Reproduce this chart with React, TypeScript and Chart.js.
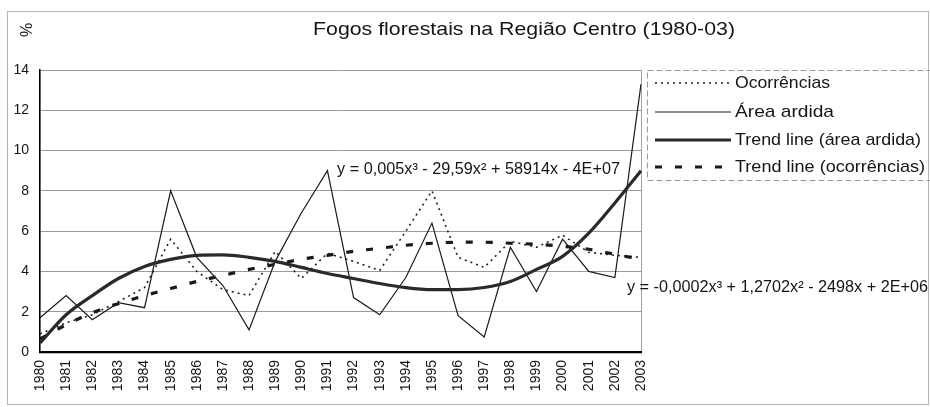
import React, { useEffect, useRef } from "react";
import { Chart, registerables } from "chart.js";

Chart.register(...registerables);

const years = [
  "1980", "1981", "1982", "1983", "1984", "1985", "1986", "1987", "1988", "1989", "1990", "1991",
  "1992", "1993", "1994", "1995", "1996", "1997", "1998", "1999", "2000", "2001", "2002", "2003",
];

const ocorrencias = [
  0.9, 1.45, 1.85, 2.5, 3.2, 5.6, 4.0, 3.1, 2.8, 5.0, 3.65, 4.9,
  4.5, 4.05, 6.0, 8.0, 4.7, 4.2, 5.5, 5.2, 5.8, 4.95, 4.8, 4.7,
];

const areaArdida = [
  1.7, 2.8, 1.6, 2.45, 2.2, 8.0, 4.7, 3.3, 1.1, 4.5, 6.9, 9.0,
  2.7, 1.85, 3.7, 6.4, 1.8, 0.75, 5.2, 3.0, 5.6, 4.0, 3.7, 13.3,
];

const trendArea = [
  0.45, 1.85, 2.8, 3.65, 4.25, 4.6, 4.8, 4.82, 4.7, 4.5, 4.2, 3.9,
  3.65, 3.4, 3.2, 3.1, 3.1, 3.2, 3.5, 4.1, 4.75, 5.9, 7.4, 9.0,
];

const trendOcorrencias = [
  0.65, 1.35, 1.95, 2.4, 2.8, 3.15, 3.5, 3.8, 4.1, 4.35, 4.6, 4.8,
  5.0, 5.15, 5.3, 5.4, 5.45, 5.45, 5.4, 5.35, 5.25, 5.1, 4.85, 4.6,
];

const yTicks = [0, 2, 4, 6, 8, 10, 12, 14];

const titleText = "Fogos florestais na Região Centro (1980-03)";
const yTitle = "%";
const legendLabels = ["Ocorrências", "Área ardida", "Trend line (área ardida)", "Trend line (ocorrências)"];
const eqArea = "y = 0,005x³ - 29,59x² + 58914x - 4E+07";
const eqOcorr = "y = -0,0002x³ + 1,2702x² - 2498x + 2E+06";

const FONT = "'Liberation Sans', Arial, sans-serif";
const INK = "#151515";

const styles = [
  { color: "#222", width: 1.6, dash: [2, 4] },
  { color: "#1a1a1a", width: 1.2, dash: [] as number[] },
  { color: "#2a2a2a", width: 3.2, dash: [] as number[] },
  { color: "#1a1a1a", width: 3.2, dash: [7, 13] },
];

function fitText(ctx: CanvasRenderingContext2D, text: string, x: number, y: number, width: number, font: string) {
  ctx.save();
  ctx.font = font;
  const w = ctx.measureText(text).width;
  const s = width / w;
  ctx.translate(x, y);
  ctx.scale(s, 1);
  ctx.textAlign = "left";
  ctx.textBaseline = "middle";
  ctx.fillStyle = INK;
  ctx.fillText(text, 0, 0);
  ctx.restore();
}

const decorPlugin = {
  id: "decor",
  afterDraw(chart: any) {
    const ctx: CanvasRenderingContext2D = chart.ctx;
    ctx.save();
    // outer frame
    ctx.strokeStyle = "#b5b5b5";
    ctx.lineWidth = 1;
    ctx.strokeRect(7.5, 11.5, 921, 393);

    // title
    fitText(ctx, titleText, 313, 30, 422, `19px ${FONT}`);

    // y title rotated
    ctx.save();
    ctx.translate(28, 30);
    ctx.rotate(-Math.PI / 2);
    ctx.font = `16px ${FONT}`;
    ctx.fillStyle = INK;
    ctx.textAlign = "center";
    ctx.textBaseline = "middle";
    ctx.fillText(yTitle, 0, 0);
    ctx.restore();

    // legend box
    ctx.save();
    ctx.strokeStyle = "#9a9a9a";
    ctx.lineWidth = 1;
    ctx.setLineDash([6, 3]);
    ctx.strokeRect(647.5, 70.5, 290, 110);
    ctx.restore();

    const rows = [83, 112, 140, 167];
    const widths = [95, 99, 186, 190];
    legendLabels.forEach((lab, i) => {
      const st = styles[i];
      ctx.save();
      ctx.strokeStyle = st.color;
      ctx.lineWidth = st.width;
      ctx.setLineDash(st.dash);
      ctx.beginPath();
      ctx.moveTo(655, rows[i]);
      ctx.lineTo(731, rows[i]);
      ctx.stroke();
      ctx.restore();
      fitText(ctx, lab, 735, rows[i], widths[i], `17px ${FONT}`);
    });

    // equations
    fitText(ctx, eqArea, 337, 170, 283, `16px ${FONT}`);
    fitText(ctx, eqOcorr, 627, 288, 301, `16px ${FONT}`);
    ctx.restore();
  },
};

export default function App() {
  const ref = useRef<HTMLCanvasElement | null>(null);

  useEffect(() => {
    document.body.style.margin = "0";
    const canvas = ref.current;
    if (!canvas) return;
    const mk = (label: string, data: number[], i: number, smooth: boolean) => ({
      label,
      data,
      borderColor: styles[i].color,
      borderWidth: styles[i].width,
      borderDash: styles[i].dash,
      pointRadius: 0,
      fill: false,
      tension: smooth ? 0.4 : 0,
      cubicInterpolationMode: smooth ? ("monotone" as const) : ("default" as const),
    });
    const chart = new Chart(canvas, {
      type: "line",
      data: {
        labels: years,
        datasets: [
          mk(legendLabels[2], trendArea, 2, true),
          mk(legendLabels[3], trendOcorrencias, 3, true),
          mk(legendLabels[0], ocorrencias, 0, false),
          mk(legendLabels[1], areaArdida, 1, false),
        ],
      },
      options: {
        responsive: false,
        animation: false,
        devicePixelRatio: 1,
        layout: { padding: { top: 70, right: 289, bottom: 0, left: 0 } },
        plugins: { legend: { display: false }, title: { display: false }, tooltip: { enabled: false } },
        scales: {
          x: {
            type: "category",
            offset: false,
            afterFit: (s: any) => {
              s.height = 55;
            },
            grid: {
              drawTicks: false,
              color: (c: any) => (c.index === years.length - 1 ? "#a0a0a0" : "rgba(0,0,0,0)"),
              lineWidth: 1,
            },
            border: { color: "#000", width: 2.2 },
            ticks: {
              minRotation: 90,
              maxRotation: 90,
              autoSkip: false,
              padding: 8,
              color: INK,
              font: { family: FONT, size: 14 },
            },
          },
          y: {
            min: 0,
            max: 14,
            afterFit: (s: any) => {
              s.width = 40;
            },
            afterBuildTicks: (s: any) => {
              s.ticks = yTicks.map((v) => ({ value: v }));
            },
            grid: { drawTicks: false, color: "#9a9a9a", lineWidth: 1 },
            border: { color: "#000", width: 1.6 },
            ticks: {
              padding: 11,
              color: INK,
              font: { family: FONT, size: 14 },
            },
          },
        },
      },
      plugins: [decorPlugin],
    });
    return () => chart.destroy();
  }, []);

  return (
    <div style={{ position: "absolute", left: 0, top: 0, width: 930, height: 407, background: "#fff" }}>
      <canvas ref={ref} width={930} height={407} style={{ display: "block" }} />
    </div>
  );
}
